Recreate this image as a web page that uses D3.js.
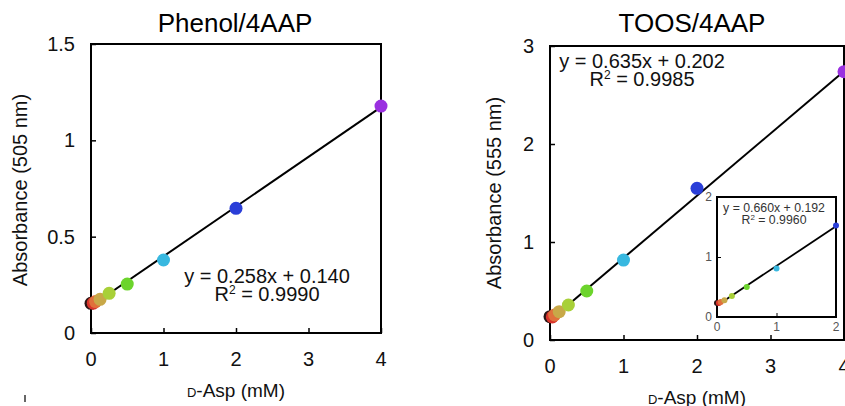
<!DOCTYPE html>
<html>
<head>
<meta charset="utf-8">
<script src="https://cdn.jsdelivr.net/npm/d3@7"></script>
<style>
body{margin:0;background:#fff;}
svg{display:block;font-family:"Liberation Sans",Arial,sans-serif;}
</style>
</head>
<body>
<svg id="c" width="845" height="406"></svg>
<script>
const concentrations = [0, 0.03125, 0.0625, 0.125, 0.25, 0.5, 1, 2, 4];
const pointColors = ["#2a1414", "#d8342c", "#e0703c", "#c8a848", "#a8d038", "#6cd42c", "#38b8e0", "#2a3ed8", "#9a30e0"];
const phenolValues = [0.154, 0.155, 0.163, 0.175, 0.206, 0.254, 0.379, 0.647, 1.178];
const toosValues = [0.238, 0.235, 0.255, 0.289, 0.357, 0.500, 0.816, 1.548, 2.738];
const insetValues = [0.234, 0.232, 0.250, 0.280, 0.350, 0.500, 0.810, 1.524];
const phenolFit = {slope: 0.258, intercept: 0.140, eq: "y = 0.258x + 0.140", r2: "0.9990"};
const toosFit = {slope: 0.635, intercept: 0.202, eq: "y = 0.635x + 0.202", r2: "0.9985"};
const insetFit = {slope: 0.660, intercept: 0.192, eq: "y = 0.660x + 0.192", r2: "0.9960"};
const xTicks = [0, 1, 2, 3, 4];
const phenolYTicks = [0, 0.5, 1, 1.5];
const toosYTicks = [0, 1, 2, 3];
const insetTicks = [0, 1, 2];

const svg = d3.select("#c");

function r2Text(g, xPos, yPos, size, supSize, dy, r2, fill) {
  const t = g.append("text").attr("x", xPos).attr("y", yPos).attr("text-anchor", "middle")
    .attr("font-size", size).attr("fill", fill);
  t.append("tspan").text("R");
  t.append("tspan").attr("font-size", supSize).attr("dy", -dy).text("2");
  t.append("tspan").attr("dy", dy).text(" = " + r2);
}

function panel(o) {
  const x = d3.scaleLinear().domain([0, 4]).range([o.x0, o.x1]);
  const y = d3.scaleLinear().domain([0, o.ymax]).range([o.y0, o.y1]);
  const g = svg.append("g");
  g.append("text").attr("x", (o.x0 + o.x1) / 2 + o.titleDx).attr("y", 32)
    .attr("text-anchor", "middle").attr("font-size", 26).text(o.title);
  g.append("g").attr("transform", `translate(0,${o.y0})`)
    .call(d3.axisTop(x).tickValues(xTicks).tickSize(5).tickFormat(""))
    .call(s => { s.select(".domain").remove(); s.selectAll("line").attr("stroke-width", 1.5); });
  g.append("g").attr("transform", `translate(${o.x0},0)`)
    .call(d3.axisRight(y).tickValues(o.yTicks).tickSize(5).tickFormat(""))
    .call(s => { s.select(".domain").remove(); s.selectAll("line").attr("stroke-width", 1.5); });
  g.selectAll(".xl").data(xTicks).join("text")
    .attr("x", d => x(d)).attr("y", o.y0 + 33).attr("text-anchor", "middle")
    .attr("font-size", 20).attr("fill", "#111").text(d => d);
  g.selectAll(".yl").data(o.yTicks).join("text")
    .attr("x", o.x0 - 16).attr("y", d => y(d) + 7).attr("text-anchor", "end")
    .attr("font-size", 20).attr("fill", "#111").text(d => d);
  g.append("rect").attr("x", o.x0).attr("y", o.y1).attr("width", o.x1 - o.x0).attr("height", o.y0 - o.y1)
    .attr("fill", "none").attr("stroke", "#000").attr("stroke-width", 2);
  g.append("line").attr("x1", x(0)).attr("y1", y(o.fit.intercept))
    .attr("x2", x(4)).attr("y2", y(o.fit.slope * 4 + o.fit.intercept))
    .attr("stroke", "#000").attr("stroke-width", 2);
  g.selectAll(".pt").data(o.values).join("circle")
    .attr("cx", (d, i) => x(concentrations[i])).attr("cy", d => y(d))
    .attr("r", 6.5).attr("fill", (d, i) => pointColors[i]);
  const xt = g.append("text").attr("x", (o.x0 + o.x1) / 2).attr("y", o.xTitleY)
    .attr("text-anchor", "middle").attr("font-size", 19).attr("fill", "#111");
  xt.append("tspan").attr("font-size", 13).text("D");
  xt.append("tspan").text("-Asp (mM)");
  g.append("text").attr("transform", `translate(${o.yTitleX},${o.yTitleY}) rotate(-90)`)
    .attr("text-anchor", "middle").attr("font-size", 20).attr("fill", "#111").text(o.ylabel);
  g.append("text").attr("x", o.eqX).attr("y", o.eqY).attr("text-anchor", "middle")
    .attr("font-size", 20).attr("fill", "#111").text(o.fit.eq);
  r2Text(g, o.eqX, o.eqY + 18, 20, 12, 7, o.fit.r2, "#111");
  return g;
}

panel({x0: 91, x1: 381, y0: 333, y1: 44, ymax: 1.5, yTicks: phenolYTicks, values: phenolValues,
  fit: phenolFit, title: "Phenol/4AAP", titleDx: -1, ylabel: "Absorbance (505 nm)",
  yTitleX: 27, yTitleY: 190, xTitleY: 397, eqX: 267, eqY: 283});

panel({x0: 550, x1: 844, y0: 340, y1: 46, ymax: 3, yTicks: toosYTicks, values: toosValues,
  fit: toosFit, title: "TOOS/4AAP", titleDx: -5, ylabel: "Absorbance (555 nm)",
  yTitleX: 501, yTitleY: 193, xTitleY: 404, eqX: 642, eqY: 68});

// inset
(function () {
  const x0 = 717, x1 = 836, y0 = 317, y1 = 197;
  const x = d3.scaleLinear().domain([0, 2]).range([x0, x1]);
  const y = d3.scaleLinear().domain([0, 2]).range([y0, y1]);
  const g = svg.append("g");
  g.append("rect").attr("x", x0).attr("y", y1).attr("width", x1 - x0).attr("height", y0 - y1)
    .attr("fill", "#fff").attr("stroke", "#000").attr("stroke-width", 2);
  g.append("g").attr("transform", `translate(${x0},0)`)
    .call(d3.axisRight(y).tickValues(insetTicks).tickSize(4).tickFormat(""))
    .call(s => s.select(".domain").remove());
  g.append("g").attr("transform", `translate(0,${y0})`)
    .call(d3.axisTop(x).tickValues(insetTicks).tickSize(4).tickFormat(""))
    .call(s => s.select(".domain").remove());
  g.selectAll(".ixl").data(insetTicks).join("text")
    .attr("x", d => x(d)).attr("y", y0 + 14).attr("text-anchor", "middle")
    .attr("font-size", 12).attr("fill", "#555").text(d => d);
  g.selectAll(".iyl").data(insetTicks).join("text")
    .attr("x", x0 - 5).attr("y", d => y(d) + 4).attr("text-anchor", "end")
    .attr("font-size", 12).attr("fill", "#555").text(d => d);
  g.append("line").attr("x1", x(0)).attr("y1", y(insetFit.intercept))
    .attr("x2", x(2)).attr("y2", y(insetFit.slope * 2 + insetFit.intercept))
    .attr("stroke", "#000").attr("stroke-width", 1.8);
  g.selectAll(".ipt").data(insetValues).join("circle")
    .attr("cx", (d, i) => x(concentrations[i])).attr("cy", d => y(d))
    .attr("r", 3).attr("fill", (d, i) => pointColors[i]);
  g.append("text").attr("x", 774).attr("y", 212).attr("text-anchor", "middle")
    .attr("font-size", 12.3).attr("fill", "#333").text(insetFit.eq);
  r2Text(g, 774, 223.5, 12.3, 8, 4, insetFit.r2, "#333");
})();

svg.append("line").attr("x1", 25).attr("y1", 395).attr("x2", 25).attr("y2", 402)
  .attr("stroke", "#333").attr("stroke-width", 1.5);
</script>
</body>
</html>
